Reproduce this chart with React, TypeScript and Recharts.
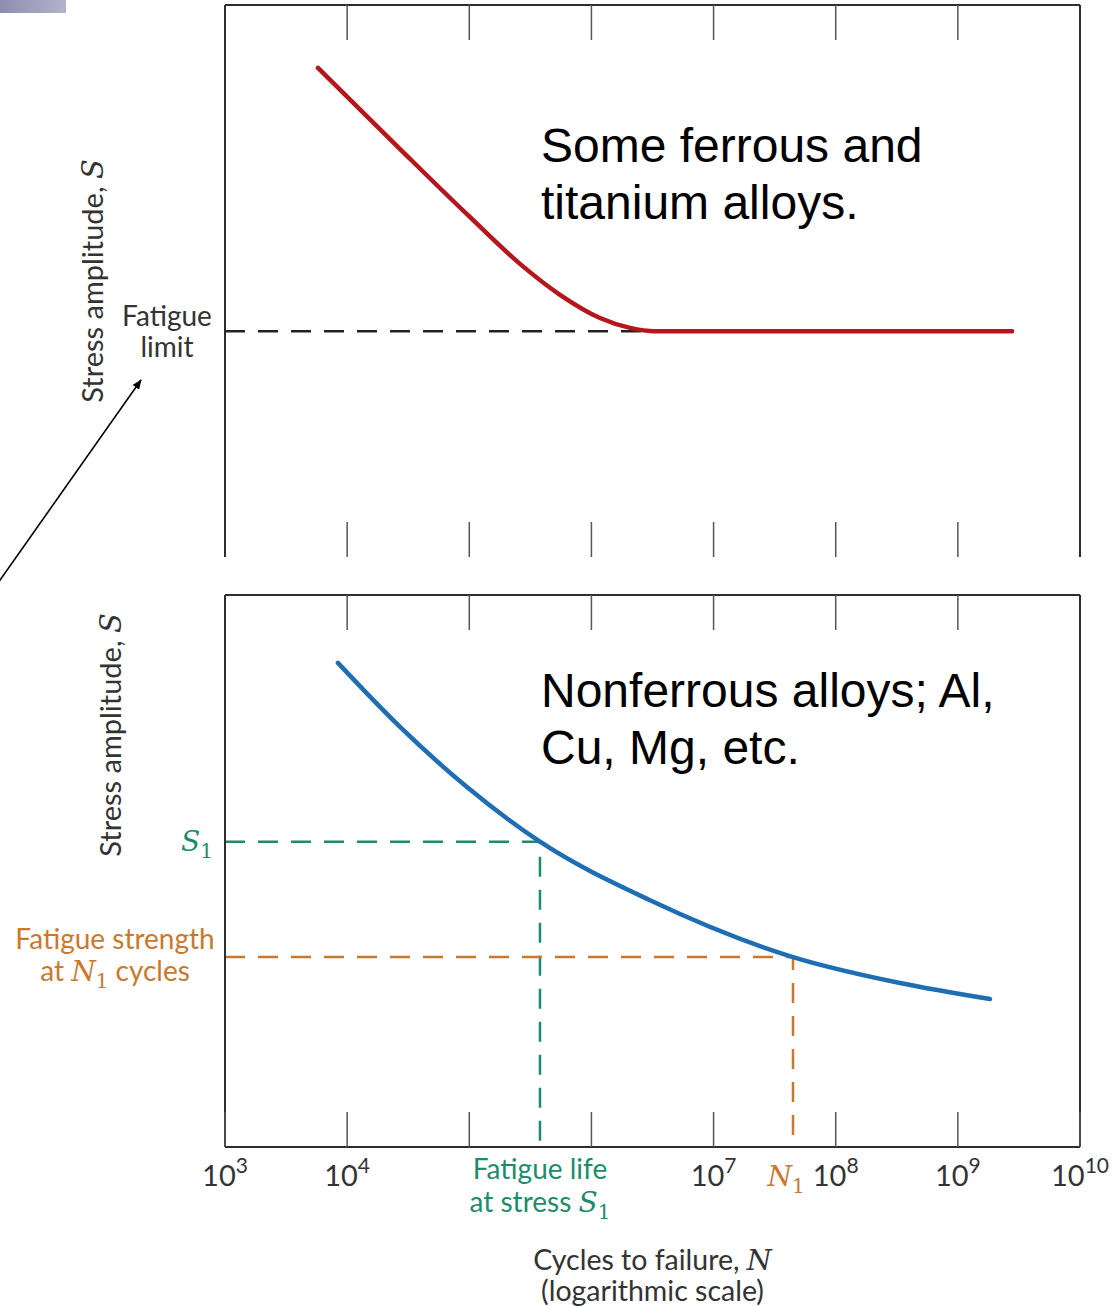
import React from "react";
import { LineChart, Line, XAxis, YAxis } from "recharts";

// x axis: cycles to failure, log scale
const DECADES = [1e3, 1e4, 1e5, 1e6, 1e7, 1e8, 1e9, 1e10];
const INNER_DECADES = [1e4, 1e5, 1e6, 1e7, 1e8, 1e9];
const LABELED_DECADES = [1e3, 1e4, 1e7, 1e8, 1e9, 1e10];

// top panel: some ferrous and titanium alloys
const ferrousCycles = [5.77e3, 2.71e4, 1.01e5, 2.6e5, 5.53e5, 1.175e6, 2.07e6, 3.31e6, 2.78e9];
const ferrousStress = [88.6, 73.9, 61.6, 53.1, 47.5, 43.3, 41.5, 40.9, 40.9];
const FATIGUE_LIMIT = 40.9;
const KNEE_CYCLES = 3.31e6;

// bottom panel: nonferrous alloys
const nonferrousCycles = [8.4e3, 2.71e4, 9.57e4, 3.79e5, 3.02e6, 4.47e7, 3.36e8, 1.83e9];
const nonferrousStress = [87.7, 76.1, 65.2, 55.3, 44.7, 34.4, 29.7, 26.8];
const S1 = 55.3;
const LIFE_AT_S1 = 3.79e5;
const N1 = 4.47e7;
const STRENGTH_AT_N1 = 34.4;

const ferrousData = ferrousCycles.map((n, i) => ({ n, s: ferrousStress[i] }));
const limitGuide = [
  { n: DECADES[0], s: FATIGUE_LIMIT },
  { n: KNEE_CYCLES, s: FATIGUE_LIMIT },
];
const nonferrousData = nonferrousCycles.map((n, i) => ({ n, s: nonferrousStress[i] }));
const s1Guide = [
  { n: DECADES[0], s: S1 },
  { n: LIFE_AT_S1, s: S1 },
  { n: LIFE_AT_S1, s: 0 },
];
const n1Guide = [
  { n: DECADES[0], s: STRENGTH_AT_N1 },
  { n: N1, s: STRENGTH_AT_N1 },
  { n: N1, s: 0 },
];

const FONT = "Lato, 'Open Sans', sans-serif";
const MATH = "'DejaVu Serif', 'Liberation Serif', serif";
const ARIAL = "'Liberation Sans', Arial, sans-serif";
const FRAME = "#2e2e2e";
const TICK = "#555";
const TEXT = "#333";
const RED = "#b5161e";
const BLUE = "#1f6db3";
const GREEN = "#1d8c6c";
const ORANGE = "#c9792e";
const TICK_LEN = 35;
const FS = 28;

function TopTick(props: any) {
  const { x, y } = props;
  return <line x1={x} y1={y} x2={x} y2={y + TICK_LEN} stroke={TICK} strokeWidth={1.5} />;
}

function BottomTickMark(props: any) {
  const { x, y } = props;
  return <line x1={x} y1={y} x2={x} y2={y - TICK_LEN} stroke={TICK} strokeWidth={1.5} />;
}

function DecadeTick(props: any) {
  const { x, y, payload } = props;
  const exp = Math.round(Math.log10(payload.value));
  const labeled = LABELED_DECADES.includes(payload.value);
  return (
    <g>
      <line x1={x} y1={y} x2={x} y2={y - TICK_LEN} stroke={TICK} strokeWidth={1.5} />
      {labeled && (
        <text x={x} y={y + 39} textAnchor="middle" fontFamily={FONT} fontSize={29} fill={TEXT}>
          10
          <tspan dy={-13} fontSize={21}>
            {exp}
          </tspan>
        </text>
      )}
    </g>
  );
}

function MarkTick(props: any) {
  const { x, y, payload } = props;
  if (payload.value === N1) {
    return (
      <text x={x - 7} y={y + 38} textAnchor="middle" fontFamily={MATH} fontStyle="italic" fontSize={28} fill={ORANGE}>
        N
        <tspan fontStyle="normal" fontSize={20} dy={7}>
          1
        </tspan>
      </text>
    );
  }
  return (
    <g fill={GREEN} fontFamily={FONT} fontSize={FS}>
      <text x={x} y={y + 31} textAnchor="middle">
        Fatigue life
      </text>
      <text x={x} y={y + 64} textAnchor="middle">
        at stress{" "}
        <tspan fontFamily={MATH} fontStyle="italic" fontSize={28}>
          S
        </tspan>
        <tspan fontFamily={MATH} fontSize={20} dy={7}>
          1
        </tspan>
      </text>
    </g>
  );
}

function LimitTick(props: any) {
  const { x, y } = props;
  return (
    <g fill={TEXT} fontFamily={FONT} fontSize={FS}>
      <text x={x - 58} y={y - 5} textAnchor="middle">
        Fatigue
      </text>
      <text x={x - 58} y={y + 26} textAnchor="middle">
        limit
      </text>
    </g>
  );
}

function StressTick(props: any) {
  const { x, y, payload } = props;
  if (payload.value === S1) {
    return (
      <text x={x - 12} y={y + 9} textAnchor="end" fontFamily={MATH} fontStyle="italic" fontSize={28} fill={GREEN}>
        S
        <tspan fontStyle="normal" fontSize={20} dy={7}>
          1
        </tspan>
      </text>
    );
  }
  return (
    <g fill={ORANGE} fontFamily={FONT} fontSize={FS}>
      <text x={x - 110} y={y - 8} textAnchor="middle">
        Fatigue strength
      </text>
      <text x={x - 110} y={y + 24} textAnchor="middle">
        at{" "}
        <tspan fontFamily={MATH} fontStyle="italic" fontSize={28}>
          N
        </tspan>
        <tspan fontFamily={MATH} fontSize={20} dy={7}>
          1
        </tspan>
        <tspan dy={-7}> cycles</tspan>
      </text>
    </g>
  );
}

function stressTitle(dx: number, dy: number, fallbackTop: number) {
  return (props: any) => {
    const vb = props.viewBox ?? { x: 224, y: fallbackTop, width: 1, height: 552 };
    const tx = vb.x + vb.width - dx;
    const ty = vb.y + vb.height / 2 + dy;
    return (
      <text
        x={tx}
        y={ty}
        textAnchor="middle"
        transform={`rotate(-90, ${tx}, ${ty})`}
        fontFamily={FONT}
        fontSize={29}
        fill={TEXT}
      >
        Stress amplitude,{" "}
        <tspan fontFamily={MATH} fontStyle="italic" fontSize={29}>
          S
        </tspan>
      </text>
    );
  };
}

function cyclesTitle(props: any) {
  const vb = props.viewBox ?? { x: 225, y: 567, width: 855, height: 1 };
  const cx = vb.x + vb.width / 2;
  return (
    <g fill={TEXT} fontFamily={FONT} fontSize={28.5}>
      <text x={cx} y={vb.y + 123} textAnchor="middle">
        Cycles to failure,{" "}
        <tspan fontFamily={MATH} fontStyle="italic" fontSize={28.5}>
          N
        </tspan>
      </text>
      <text x={cx} y={vb.y + 154} textAnchor="middle">
        (logarithmic scale)
      </text>
    </g>
  );
}

// axes get a 1px box so Recharts still renders them; margins below account for it
const xCommon = {
  dataKey: "n",
  type: "number" as const,
  scale: "log" as const,
  domain: [DECADES[0], DECADES[DECADES.length - 1]],
  allowDataOverflow: true,
  height: 1,
  tickSize: 0,
  tickMargin: 0,
  tickLine: false,
  interval: 0 as const,
};

const yCommon = {
  type: "number" as const,
  domain: [0, 100],
  width: 1,
  tickSize: 0,
  tickMargin: 0,
  tickLine: false,
  interval: 0 as const,
};

const frame = { stroke: FRAME, strokeWidth: 2 };

function FerrousPanel() {
  return (
    <LineChart width={1118} height={580} margin={{ top: 4, right: 37, bottom: 22, left: 224 }}>
      <XAxis {...xCommon} xAxisId="main" orientation="bottom" ticks={INNER_DECADES} tick={BottomTickMark} axisLine={false} />
      <XAxis {...xCommon} xAxisId="top" orientation="top" ticks={INNER_DECADES} tick={TopTick} axisLine={frame} />
      <YAxis
        {...yCommon}
        yAxisId="left"
        orientation="left"
        ticks={[FATIGUE_LIMIT]}
        tick={LimitTick}
        axisLine={frame}
        label={stressTitle(122, 0, 5)}
      />
      <YAxis {...yCommon} yAxisId="right" orientation="right" tick={false} axisLine={frame} />
      <Line
        xAxisId="main"
        yAxisId="left"
        data={limitGuide}
        dataKey="s"
        type="linear"
        stroke="#222"
        strokeWidth={2.5}
        strokeDasharray="20 13"
        dot={false}
        activeDot={false}
        isAnimationActive={false}
      />
      <Line
        xAxisId="main"
        yAxisId="left"
        data={ferrousData}
        dataKey="s"
        type="monotone"
        stroke={RED}
        strokeWidth={4.5}
        strokeLinecap="round"
        dot={false}
        activeDot={false}
        isAnimationActive={false}
      />
    </LineChart>
  );
}

function NonferrousPanel() {
  return (
    <LineChart width={1118} height={726} margin={{ top: 14, right: 37, bottom: 157, left: 224 }}>
      <XAxis {...xCommon} xAxisId="main" orientation="bottom" ticks={DECADES} tick={DecadeTick} axisLine={frame} label={cyclesTitle} />
      <XAxis {...xCommon} xAxisId="marks" orientation="bottom" ticks={[LIFE_AT_S1, N1]} tick={MarkTick} axisLine={false} />
      <XAxis {...xCommon} xAxisId="top" orientation="top" ticks={INNER_DECADES} tick={TopTick} axisLine={frame} />
      <YAxis
        {...yCommon}
        yAxisId="left"
        orientation="left"
        ticks={[S1, STRENGTH_AT_N1]}
        tick={StressTick}
        axisLine={frame}
        label={stressTitle(104, -136, 15)}
      />
      <YAxis {...yCommon} yAxisId="right" orientation="right" tick={false} axisLine={frame} />
      <Line
        xAxisId="main"
        yAxisId="left"
        data={s1Guide}
        dataKey="s"
        type="linear"
        stroke={GREEN}
        strokeWidth={2.5}
        strokeDasharray="20 13"
        dot={false}
        activeDot={false}
        isAnimationActive={false}
      />
      <Line
        xAxisId="main"
        yAxisId="left"
        data={n1Guide}
        dataKey="s"
        type="linear"
        stroke={ORANGE}
        strokeWidth={2.5}
        strokeDasharray="20 13"
        dot={false}
        activeDot={false}
        isAnimationActive={false}
      />
      <Line
        xAxisId="main"
        yAxisId="left"
        data={nonferrousData}
        dataKey="s"
        type="monotone"
        stroke={BLUE}
        strokeWidth={4.5}
        strokeLinecap="round"
        dot={false}
        activeDot={false}
        isAnimationActive={false}
      />
    </LineChart>
  );
}

export default function App() {
  return (
    <div style={{ position: "absolute", left: 0, top: 0, width: 1118, height: 1306, background: "#fff", overflow: "hidden" }}>
      <div
        style={{
          position: "absolute",
          left: 0,
          top: 0,
          width: 66,
          height: 13,
          background: "linear-gradient(to right, #8d8db0, #b3b3cb)",
        }}
      />
      <div style={{ position: "absolute", left: 0, top: 0 }}>
        <FerrousPanel />
      </div>
      <div style={{ position: "absolute", left: 0, top: 580 }}>
        <NonferrousPanel />
      </div>
      <svg width={1118} height={1306} style={{ position: "absolute", left: 0, top: 0, pointerEvents: "none" }}>
        <defs>
          <marker id="arrowHead" markerWidth="10" markerHeight="8" refX="9" refY="4" orient="auto" markerUnits="userSpaceOnUse">
            <path d="M0,0 L10,4 L0,8 Z" fill="#000" />
          </marker>
        </defs>
        <line x1={-2} y1={583} x2={141} y2={380} stroke="#000" strokeWidth={1.6} markerEnd="url(#arrowHead)" />
        <g fontFamily={ARIAL} fontSize={48} fill="#000">
          <text x={541} y={162}>Some ferrous and</text>
          <text x={541} y={219}>titanium alloys.</text>
          <text x={541} y={707}>Nonferrous alloys; Al,</text>
          <text x={541} y={764}>Cu, Mg, etc.</text>
        </g>
      </svg>
    </div>
  );
}
